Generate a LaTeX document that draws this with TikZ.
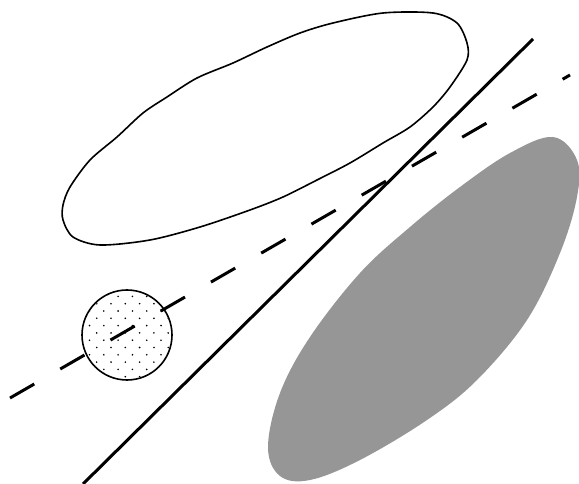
\documentclass[tikz,border=0pt]{standalone}
\usepackage{xcolor}
\usepackage{tikz}
\definecolor{blobgray}{RGB}{150,150,150}

\begin{document}
\begin{tikzpicture}[x=1pt,y=-1pt]
    \useasboundingbox (0,0) rectangle (579,484);
    \fill[blobgray] plot[smooth cycle, tension=0.6] coordinates {
        (553,137) (577,160) (577,197) (560,253) (527,320) (477,380) (427,420)
        (360,460) (310,480) (280,476) (268,447) (280,393) (310,337) (360,273)
        (410,227) (460,187) (510,153)};
    \draw[line width=1.6pt] plot[smooth cycle, tension=0.5] coordinates {
        (63,205) (70,187) (90,160) (117,137) (143,113) (167,97) (197,78)
        (233,63) (267,47) (300,33) (333,23) (383,13) (433,13) (457,23)
        (467,43) (467,60) (450,87) (433,107) (410,127) (383,143) (350,163)
        (317,180) (283,197) (250,210) (200,227) (150,240) (100,245)
        (73,237) (63,220)};
    \coordinate (c) at (127,335);
    \fill[white] (c) circle (45pt);
    \begin{scope}
        \clip (c) circle (44pt);
        \foreach \x in {0,...,6}
            \foreach \y in {0,...,6} {
                \fill (82.4+14.3*\x, 289.1+14.6*\y) circle (0.9pt);
                \fill (89.5+14.3*\x, 296.4+14.6*\y) circle (0.9pt);
            }
    \end{scope}
    \draw[line width=1.6pt] (c) circle (45pt);
    \coordinate (s1) at (83,484);
    \coordinate (s2) at (533,39);
    \draw[line width=3pt] (s1) -- (s2);
    \coordinate (d1) at (10,398);
    \coordinate (d2) at (570,75);
    \draw[line width=3pt, dash pattern=on 28pt off 30pt] (d1) -- (d2);
\end{tikzpicture}
\end{document}
